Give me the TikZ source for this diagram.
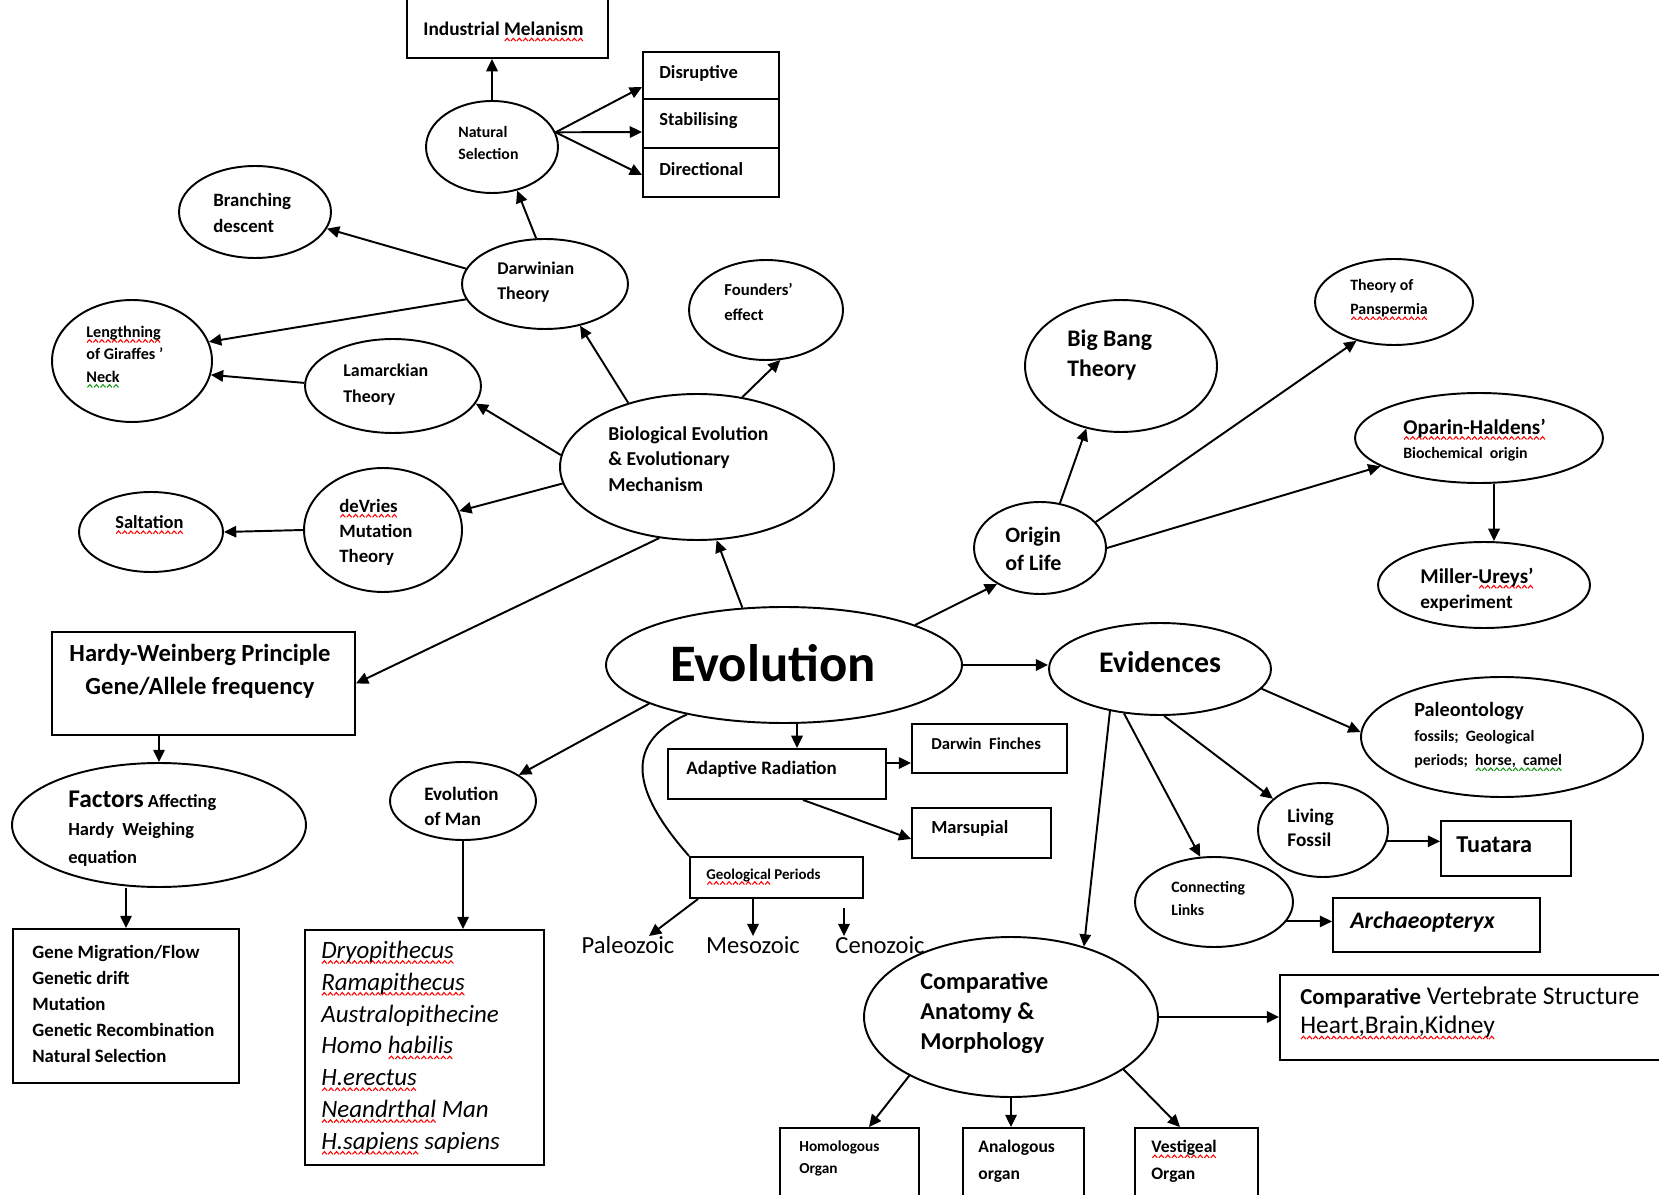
\documentclass[tikz,border=0pt]{standalone}
\usepackage{fontspec}
\setmainfont{Carlito}
\usetikzlibrary{shapes.geometric,arrows.meta}
\newcommand\fsz[2]{\fontsize{#1}{#2}\selectfont}
\definecolor{sqgreen}{RGB}{20,150,20}
% small wave pieces for the spell-check underlines
\newsavebox\wavered
\newsavebox\wavegrn
\newcommand\mkwave[2]{\global\setbox#1=\hbox{\begin{pgfpicture}\pgfsetlinewidth{0.6pt}\pgfsetstrokecolor{#2}\pgfpathmoveto{\pgfpoint{0pt}{0pt}}\pgfpathlineto{\pgfpoint{1.4pt}{1.6pt}}\pgfpathlineto{\pgfpoint{2.8pt}{0pt}}\pgfusepath{stroke}\end{pgfpicture}}}
\AtBeginDocument{\mkwave\wavered{red}\mkwave\wavegrn{sqgreen}}
\newsavebox\sqword
\newcommand\sqline[2]{\leavevmode\sbox\sqword{#2}\rlap{\lower3.2pt\hbox to\wd\sqword{\xleaders\copy#1\hfil}}\usebox\sqword}
\newcommand\redsq[1]{\sqline\wavered{#1}}
\newcommand\grnsq[1]{\sqline\wavegrn{#1}}
\tikzset{
  ell/.style={draw, ellipse, line width=1.1pt, inner sep=0pt},
  box/.style={draw, rectangle, line width=1.1pt, inner sep=0pt},
  arr/.style={line width=1.1pt, -{Triangle[length=7pt,width=6.5pt]}},
  t/.style={anchor=west, inner sep=0pt, align=left},
}
\begin{document}
\begin{tikzpicture}[x=0.02cm,y=-0.02cm]
\useasboundingbox (0,0) rectangle (1659,1195);
\clip (0,0) rectangle (1659,1195);
\fill[white] (0,0) rectangle (1659,1195);

% ---------- ellipses ----------
\node[ell, minimum width=2.64cm, minimum height=1.84cm] (nat) at (492,147) {};
\node[ell, minimum width=3.04cm, minimum height=1.84cm] (branch) at (255,212) {};
\node[ell, minimum width=3.32cm, minimum height=1.80cm] (darwin) at (545,284) {};
\node[ell, minimum width=3.08cm, minimum height=2.00cm] (founders) at (766,310) {};
\node[ell, minimum width=3.20cm, minimum height=2.44cm] (giraffe) at (132,361) {};
\node[ell, minimum width=3.52cm, minimum height=1.88cm] (lamarck) at (393,386) {};
\node[ell, minimum width=5.48cm, minimum height=2.92cm] (bio) at (697,467) {};
\node[ell, minimum width=3.16cm, minimum height=2.48cm] (devries) at (383,530) {};
\node[ell, minimum width=2.88cm, minimum height=1.60cm] (salt) at (151,532) {};
\node[ell, minimum width=5.88cm, minimum height=2.48cm] (factors) at (159,825) {};
\node[ell, minimum width=7.12cm, minimum height=2.32cm] (evo) at (784,665) {};
\node[ell, minimum width=2.92cm, minimum height=1.56cm] (man) at (463,801) {};
\node[ell, minimum width=3.84cm, minimum height=2.64cm] (bigbang) at (1121,366) {};
\node[ell, minimum width=3.16cm, minimum height=1.72cm] (pan) at (1394,302) {};
\node[ell, minimum width=4.96cm, minimum height=1.80cm] (oparin) at (1479,438) {};
\node[ell, minimum width=4.24cm, minimum height=1.72cm] (miller) at (1484,585) {};
\node[ell, minimum width=2.64cm, minimum height=1.84cm] (origin) at (1040,548) {};
\node[ell, minimum width=4.44cm, minimum height=1.84cm] (evid) at (1160,669) {};
\node[ell, minimum width=5.64cm, minimum height=2.40cm] (paleo) at (1502,737) {};
\node[ell, minimum width=2.60cm, minimum height=1.88cm] (living) at (1323,830) {};
\node[ell, minimum width=3.16cm, minimum height=1.80cm] (connect) at (1214,902) {};
\node[ell, minimum width=5.88cm, minimum height=3.20cm] (comp) at (1011,1017) {};

% ---------- boxes ----------
\node[box, minimum width=4.02cm, minimum height=1.36cm] (indus) at (507.5,24) {};
\node[box, minimum width=2.72cm, minimum height=0.94cm] (disr) at (711,75.5) {};
\node[box, minimum width=2.72cm, minimum height=0.98cm] (stab) at (711,123.5) {};
\node[box, minimum width=2.72cm, minimum height=0.98cm] (dirn) at (711,172.5) {};
\node[box, minimum width=6.06cm, minimum height=2.06cm] (hardy) at (203.5,683.5) {};
\node[box, minimum width=4.52cm, minimum height=3.08cm] (gene) at (126,1006) {};
\node[box, minimum width=4.78cm, minimum height=4.70cm] (mlist) at (424.5,1047.5) {};
\node[box, minimum width=4.36cm, minimum height=1.00cm] (adapt) at (777,774) {};
\node[box, minimum width=3.10cm, minimum height=0.98cm] (finch) at (989.5,748.5) {};
\node[box, minimum width=2.78cm, minimum height=1.00cm] (mars) at (981.5,833) {};
\node[box, minimum width=3.46cm, minimum height=0.82cm] (geo) at (776.5,877.5) {};
\node[box, minimum width=2.60cm, minimum height=1.10cm] (tuat) at (1506,848.5) {};
\node[box, minimum width=4.14cm, minimum height=1.08cm] (arch) at (1436.5,925) {};
\node[box, minimum width=8.00cm, minimum height=1.70cm] (cvs) at (1480,1017.5) {};
\node[box, minimum width=2.78cm, minimum height=1.74cm] (homo) at (849.5,1171.5) {};
\node[box, minimum width=2.42cm, minimum height=1.74cm] (analog) at (1023.5,1171.5) {};
\node[box, minimum width=2.46cm, minimum height=1.74cm] (vest) at (1196.5,1171.5) {};

% ---------- texts ----------
\node[t, font=\fsz{11}{12}\bfseries] (tindus) at (423,32) {Industrial \redsq{Melanism}};
\node[t, font=\fsz{10.5}{12}\bfseries] (tdisr) at (659,73) {Disruptive};
\node[t, font=\fsz{10.5}{12}\bfseries] (tstab) at (659,121) {Stabilising};
\node[t, font=\fsz{10.5}{12}\bfseries] (tdirn) at (659,169) {Directional};
\node[t, font=\fsz{9}{12.5}\bfseries] (tnat) at (458,143) {Natural\\Selection};
\node[t, font=\fsz{10.7}{14.7}\bfseries] (tbranch) at (213,213) {Branching\\descent};
\node[t, font=\fsz{10.2}{14.2}\bfseries] (tdarwin) at (497,282) {Darwinian\\Theory};
\node[t, font=\fsz{9.5}{14.2}\bfseries] (tfound) at (724,302) {Founders'\\effect};
\node[t, font=\fsz{9.2}{12.8}\bfseries] (tgir) at (86,357) {\redsq{Lengthning}\\of Giraffes \grnsq{'}\\\grnsq{Neck}};
\node[t, font=\fsz{10.2}{14.7}\bfseries] (tlam) at (343,385) {Lamarckian\\Theory};
\node[t, font=\fsz{11.2}{14.5}\bfseries] (tbio) at (608,459) {Biological Evolution\\\& Evolutionary\\Mechanism};
\node[t, font=\fsz{10.7}{14.2}\bfseries] (tdev) at (339,532) {\redsq{deVries}\\Mutation\\Theory};
\node[t, font=\fsz{10.5}{12}\bfseries] (tsalt) at (115,525) {\redsq{Saltation}};
\node[font=\fsz{14}{18.7}\bfseries, align=center, inner sep=0pt] (thardy) at (200,671) {Hardy-Weinberg Principle\\Gene/Allele frequency};
\node[t, font=\fsz{10.5}{15.9}\bfseries] (tfact) at (68,829) {{\fsz{14.5}{15.9}Factors} Affecting\\Hardy\ \ Weighing\\equation};
\node[t, font=\fsz{10.7}{14.9}\bfseries] (tgene) at (32,1004) {Gene Migration/Flow\\Genetic drift\\Mutation\\Genetic Recombination\\Natural Selection};
\node[t, font=\fsz{10.8}{14.2}\bfseries] (tman) at (424,806) {Evolution\\of Man};
\node[t, font=\fsz{14.2}{18.1}\itshape] (tmlist) at (321,1048) {\redsq{Dryopithecus}\\\redsq{Ramapithecus}\\Australopithecine\\Homo \redsq{habilis}\\\redsq{H.erectus}\\\redsq{Neandrthal} Man\\\redsq{H.sapiens} sapiens};
\node[t, font=\fsz{8.5}{10}\bfseries] (tgeo) at (706,877) {\redsq{Geological} Periods};
\node[font=\fsz{14}{16}, inner sep=0pt] (pal) at (628,945) {Paleozoic};
\node[font=\fsz{14}{16}, inner sep=0pt] (mes) at (753,945) {Mesozoic};
\node[font=\fsz{14}{16}, inner sep=0pt] (ceno) at (880,945) {Cenozoic};
\node[t, font=\fsz{10.8}{12}\bfseries] (tadapt) at (686,769) {Adaptive Radiation};
\node[t, font=\fsz{9.5}{12}\bfseries] (tfinch) at (931,744) {Darwin\ \ Finches};
\node[t, font=\fsz{10.5}{12}\bfseries] (tmars) at (931,828) {Marsupial};
\node[font=\fsz{30}{32}\bfseries, inner sep=0pt] (tevo) at (773,663) {Evolution};
\node[font=\fsz{17}{20}\bfseries, inner sep=0pt] (tevid) at (1160,662) {Evidences};
\node[t, font=\fsz{12.5}{15.9}\bfseries] (torig) at (1005,549) {Origin\\of Life};
\node[t, font=\fsz{13.5}{17}\bfseries] (tbig) at (1067,355) {Big Bang\\Theory};
\node[t, font=\fsz{9}{13.6}\bfseries] (tpan) at (1350,300) {Theory of\\\redsq{Panspermia}};
\node[t, font=\fsz{9}{13.6}\bfseries] (topar) at (1403,440) {{\fsz{12}{13.6}\redsq{Oparin-Haldens'}}\\Biochemical\ \ origin};
\node[t, font=\fsz{11}{14.2}\bfseries] (tmill) at (1420,589.5) {{\fsz{12}{14.2}Miller-\redsq{Ureys'}}\\experiment};
\node[t, font=\fsz{9}{13.9}\bfseries] (tpaleo) at (1414,737) {{\fsz{11.5}{13.9}Paleontology}\\fossils;\ \ Geological\\periods;\ \ \grnsq{horse,\ \ camel}};
\node[t, font=\fsz{11}{13.6}\bfseries] (tliv) at (1287,828) {Living\\Fossil};
\node[t, font=\fsz{13.8}{15}\bfseries] (ttuat) at (1456,845) {Tuatara};
\node[t, font=\fsz{9}{13}\bfseries] (tconn) at (1171,898.5) {Connecting\\Links};
\node[t, font=\fsz{13.5}{15}\bfseries\itshape] (tarch) at (1350,922) {Archaeopteryx};
\node[t, font=\fsz{13.8}{17}\bfseries] (tcomp) at (920,1013) {Comparative\\Anatomy \&\\Morphology};
\node[t, font=\fsz{14.5}{17}] (tcvs) at (1300,1013) {{\fsz{13}{17}\bfseries Comparative} Vertebrate Structure\\\redsq{Heart,Brain,Kidney}};
\node[t, font=\fsz{8.7}{12.5}\bfseries] (thomo) at (799,1158) {Homologous\\Organ};
\node[t, font=\fsz{10}{15.3}\bfseries] (tanal) at (978,1161.5) {Analogous\\organ};
\node[t, font=\fsz{10}{15.3}\bfseries] (tvest) at (1151,1161.5) {\redsq{Vestigeal}\\Organ};

% ---------- connectors ----------
\draw[arr] (nat.north) -- (nat.north |- indus.south);
\draw[arr] (nat.13) -- ([yshift=-0.23cm]disr.west);
\draw[arr] (nat.13) -- ([yshift=-0.17cm]stab.west);
\draw[arr] (nat.13) -- ([yshift=-0.05cm]dirn.west);
\draw[arr] (darwin.101) -- (nat.300);
\draw[arr] (darwin.169) -- (branch.347);
\draw[arr] (darwin.191) -- (giraffe.14);
\draw[arr] (lamarck.178) -- (giraffe.350);
\draw[arr] (bio.137) -- (darwin.310);
\draw[arr] (bio.57) -- (founders.286);
\draw[arr] (bio.175) -- (lamarck.348);
\draw[arr] (bio.187) -- (devries.14);
\draw[arr] (devries.west) -- (salt.east);
\draw[arr] (bio.242) -- (hardy.east);
\draw[arr] (evo.126) -- (bio.285);
\draw[arr] (hardy.south -| factors.north) -- (factors.north);
\draw[arr] (factors.south -| gene.north) -- (gene.north);
\draw[arr] (evo.196) -- (man.25);
\draw[arr] (man.south) -- (man.south |- mlist.north);
\draw[arr] ([xshift=0.26cm]evo.south) -- ([xshift=0.26cm]evo.south |- adapt.north);
\draw[arr] ([yshift=0.22cm]adapt.east) -- ([yshift=0.22cm]adapt.east -| finch.west);
\draw[arr] ([xshift=0.52cm]adapt.south) -- ([yshift=-0.12cm]mars.west);
\draw[line width=1.1pt] (evo.207) .. controls +(-70,31) and +(-50,-57) .. (geo.north west);
\draw[arr] ([xshift=0.18cm]geo.south west) -- ([xshift=0.42cm]pal.north);
\draw[arr] (geo.south -| mes.north) -- (mes.north);
\coordinate (cenotop) at (844,908);
\draw[arr] (cenotop) -- (cenotop |- ceno.north);
\draw[arr] (evo.17) -- (origin.220);
\draw[arr] (origin.66) -- (bigbang.241);
\draw[arr] (origin.25) -- (pan.226);
\draw[arr] (origin.east) -- (oparin.196);
\draw[arr] ([xshift=0.3cm]oparin.south) -- ([xshift=0.3cm]oparin.south |- miller.north);
\draw[arr] (evo.east) -- (evo.east -| evid.west);
\draw[arr] (evid.349) -- (paleo.178);
\draw[arr] (evid.275) -- (living.148);
\draw[arr] (evid.231) -- (connect.107);
\draw[arr] (evid.220) -- (comp.44);
\draw[arr] (living.350) -- (living.350 -| tuat.west);
\draw[arr] (connect.-15) -- (connect.-15 -| arch.west);
\draw[arr] (comp.east) -- (comp.east -| cvs.west);
\draw[arr] (comp.210) -- ([xshift=0.39cm]homo.north);
\draw[arr] (comp.south) -- (comp.south |- analog.north);
\draw[arr] (comp.335) -- ([xshift=-0.33cm]vest.north);
\end{tikzpicture}
\end{document}
